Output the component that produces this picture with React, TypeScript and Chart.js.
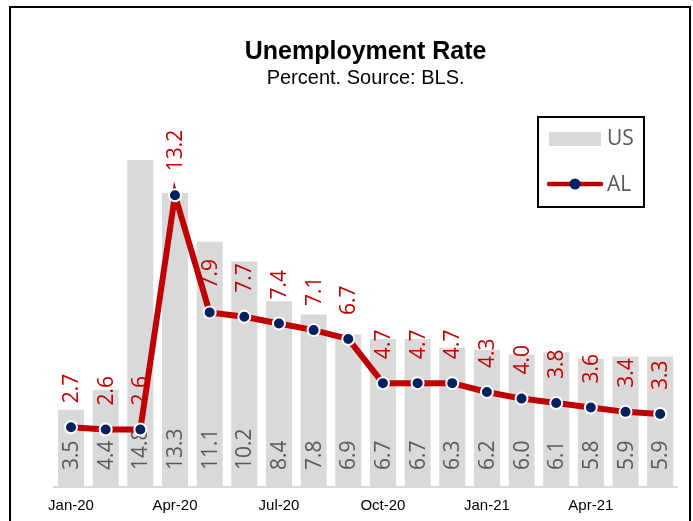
import React, { useEffect, useRef } from 'react';
import { Chart, registerables } from 'chart.js';

Chart.register(...registerables);

const categories = [
  'Jan-20', 'Feb-20', 'Mar-20', 'Apr-20', 'May-20', 'Jun-20',
  'Jul-20', 'Aug-20', 'Sep-20', 'Oct-20', 'Nov-20', 'Dec-20',
  'Jan-21', 'Feb-21', 'Mar-21', 'Apr-21', 'May-21', 'Jun-21',
];
const usValues = [3.5, 4.4, 14.8, 13.3, 11.1, 10.2, 8.4, 7.8, 6.9, 6.7, 6.7, 6.3, 6.2, 6.0, 6.1, 5.8, 5.9, 5.9];
const alValues = [2.7, 2.6, 2.6, 13.2, 7.9, 7.7, 7.4, 7.1, 6.7, 4.7, 4.7, 4.7, 4.3, 4.0, 3.8, 3.6, 3.4, 3.3];
const seriesNames = ['US', 'AL'];
const titleText = 'Unemployment Rate';
const subtitleText = 'Percent. Source: BLS.';

const BAR_COLOR = '#D9D9D9';
const LINE_COLOR = '#C00000';
const POINT_COLOR = '#002060';
const LABEL_GRAY = '#595959';
const LABEL_FONT = '21px "Open Sans", "Liberation Sans", sans-serif';
const AXIS_FONT = '"Liberation Sans", Arial, sans-serif';

const valueLabels = {
  id: 'valueLabels',
  afterDatasetDraw(chart: any, args: any) {
    const meta = args.meta;
    if (meta.type !== 'bar') return;
    const ctx = chart.ctx;
    const ds = chart.data.datasets[args.index];
    const base = chart.scales.y.getPixelForValue(0);
    ctx.save();
    ctx.font = LABEL_FONT;
    ctx.fillStyle = LABEL_GRAY;
    ctx.textAlign = 'left';
    ctx.textBaseline = 'middle';
    meta.data.forEach((el: any, i: number) => {
      ctx.save();
      ctx.translate(el.x + 1, base - 17);
      ctx.rotate(-Math.PI / 2);
      ctx.fillText(Number(ds.data[i]).toFixed(1), 0, 0);
      ctx.restore();
    });
    ctx.restore();
  },
  afterDatasetsDraw(chart: any) {
    const ctx = chart.ctx;
    chart.data.datasets.forEach((ds: any, di: number) => {
      const meta = chart.getDatasetMeta(di);
      if (meta.type !== 'line') return;
      ctx.save();
      ctx.font = LABEL_FONT;
      ctx.fillStyle = LINE_COLOR;
      ctx.textAlign = 'left';
      ctx.textBaseline = 'middle';
      meta.data.forEach((el: any, i: number) => {
        ctx.save();
        ctx.translate(el.x + 1, el.y - 24);
        ctx.rotate(-Math.PI / 2);
        ctx.fillText(Number(ds.data[i]).toFixed(1), 0, 0);
        ctx.restore();
      });
      ctx.restore();
    });
  },
};

const boxedLegend = {
  id: 'boxedLegend',
  afterDraw(chart: any) {
    const ctx = chart.ctx;
    const dsBar = chart.data.datasets[0];
    const dsLine = chart.data.datasets[1];
    ctx.save();
    ctx.strokeStyle = '#000';
    ctx.lineWidth = 2;
    ctx.strokeRect(527, 109, 106, 90);

    ctx.fillStyle = dsBar.backgroundColor;
    ctx.fillRect(538, 124, 52, 14);

    ctx.strokeStyle = dsLine.borderColor;
    ctx.lineWidth = 4.5;
    ctx.lineCap = 'round';
    ctx.beginPath();
    ctx.moveTo(538, 176);
    ctx.lineTo(590, 176);
    ctx.stroke();
    ctx.beginPath();
    ctx.arc(564, 176, 5.5, 0, Math.PI * 2);
    ctx.fillStyle = dsLine.pointBackgroundColor;
    ctx.fill();

    ctx.font = LABEL_FONT;
    ctx.fillStyle = LABEL_GRAY;
    ctx.textAlign = 'left';
    ctx.textBaseline = 'middle';
    ctx.fillText(dsBar.label, 596, 131);
    ctx.fillText(dsLine.label, 596, 177);
    ctx.restore();
  },
};

export default function App() {
  const ref = useRef<HTMLCanvasElement>(null);

  useEffect(() => {
    const chart = new Chart(ref.current as HTMLCanvasElement, {
      type: 'bar',
      data: {
        labels: categories,
        datasets: [
          {
            type: 'bar',
            label: seriesNames[0],
            data: usValues,
            backgroundColor: BAR_COLOR,
            borderWidth: 0,
            categoryPercentage: 1,
            barPercentage: 0.75,
            order: 1,
          } as any,
          {
            type: 'line',
            label: seriesNames[1],
            data: alValues,
            borderColor: LINE_COLOR,
            borderWidth: 6,
            pointRadius: 6,
            pointBackgroundColor: POINT_COLOR,
            pointBorderColor: '#FFFFFF',
            pointBorderWidth: 2,
            tension: 0,
            fill: false,
            order: 0,
          } as any,
        ],
      },
      options: {
        responsive: false,
        animation: false,
        events: [],
        layout: { padding: { left: 42.7, right: 11.5, top: 0, bottom: 0 } },
        plugins: {
          legend: { display: false },
          tooltip: { enabled: false },
          title: {
            display: true,
            text: titleText,
            color: '#000',
            font: { family: AXIS_FONT, size: 25, weight: 'bold', lineHeight: 1 },
            padding: { top: 31.5, bottom: 0 },
          },
          subtitle: {
            display: true,
            text: subtitleText,
            color: '#000',
            font: { family: AXIS_FONT, size: 20, lineHeight: 1 },
            padding: { top: 3.5, bottom: 45.4 },
          },
        },
        scales: {
          x: {
            grid: { display: false, drawTicks: false },
            border: { display: true, color: '#D9D9D9', width: 2 },
            ticks: {
              autoSkip: false,
              maxRotation: 0,
              minRotation: 0,
              padding: 10,
              color: '#000',
              font: { family: AXIS_FONT, size: 15 },
              callback: (_v: any, i: number) => (i % 3 === 0 ? categories[i] : ''),
            },
            afterFit: (scale: any) => {
              scale.height = 36;
            },
          },
          y: {
            display: false,
            min: 0,
            max: 16,
          },
        },
      },
      plugins: [valueLabels, boxedLegend],
    });
    return () => chart.destroy();
  }, []);

  return (
    <div
      style={{
        position: 'fixed',
        left: 9,
        top: 6,
        width: 678,
        height: 530,
        border: '2px solid #000',
        background: '#fff',
      }}
    >
      <canvas ref={ref} width={678} height={515} style={{ display: 'block' }} />
    </div>
  );
}
